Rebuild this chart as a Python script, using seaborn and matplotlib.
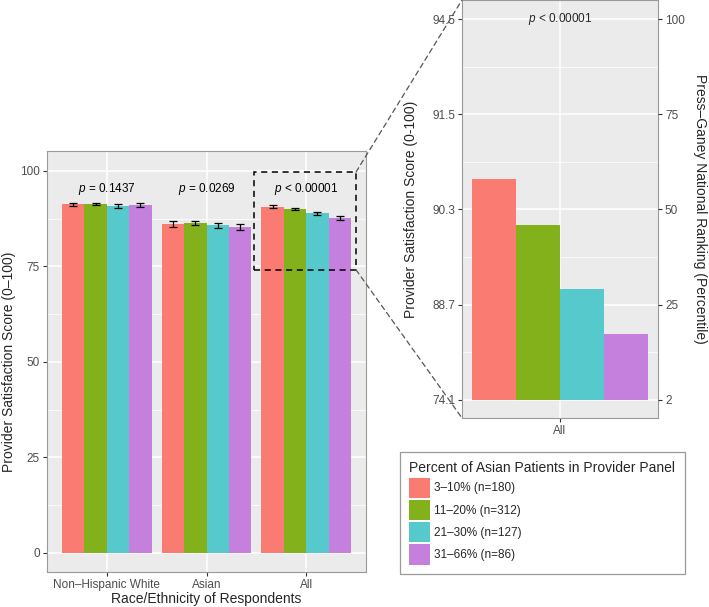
import numpy as np
import pandas as pd
import seaborn as sns
import matplotlib.pyplot as plt
from matplotlib.patches import Rectangle, ConnectionPatch
from matplotlib.ticker import FixedLocator

# ---------------- data ----------------
groups = ["3–10% (n=180)", "11–20% (n=312)", "21–30% (n=127)", "31–66% (n=86)"]
races = ["Non–Hispanic White", "Asian", "All"]
score_nhw = [91.3, 91.4, 90.8, 91.0]
score_asian = [86.2, 86.4, 85.7, 85.4]
score_all = [90.6, 90.0, 88.9, 87.7]
se_nhw = [0.4, 0.3, 0.5, 0.5]
se_asian = [0.8, 0.6, 0.6, 0.8]
se_all = [0.4, 0.3, 0.4, 0.5]
p_labels = ["= 0.1437", "= 0.0269", "< 0.00001"]

# zoom panel: national ranking percentile of each group (All respondents)
pct_all = [58, 46, 29, 18]
pct_ticks = [2, 25, 50, 75, 100]
score_tick_labels = ["74.1", "88.7", "90.3", "91.5", "94.5"]
zoom_p_label = "< 0.00001"

colors = ["#F97B72", "#83B11C", "#55C9CB", "#C480DC"]

# ---------------- style ----------------
sns.set_theme(style="darkgrid")
plt.rcParams.update({
    "axes.facecolor": "#EBEBEB",
    "grid.color": "white",
    "axes.edgecolor": "#9A9A9A",
    "mathtext.fontset": "custom",
    "mathtext.it": "Liberation Sans:italic",
    "mathtext.rm": "Liberation Sans",
})
plt.rcParams["font.family"] = ["Liberation Sans", "DejaVu Sans"]

fig = plt.figure(figsize=(7.09, 6.07), dpi=100)
W, H = 709, 607
ax1 = fig.add_axes([47 / W, 1 - 572 / H, (366 - 47) / W, (572 - 151) / H])
ax2 = fig.add_axes([462 / W, 1 - 418 / H, (658 - 462) / W, 418 / H])

# ---------------- left panel ----------------
df = pd.DataFrame({
    "race": np.repeat(races, len(groups)),
    "group": groups * len(races),
    "score": score_nhw + score_asian + score_all,
    "se": se_nhw + se_asian + se_all,
})
sns.barplot(data=df, x="race", y="score", hue="group", hue_order=groups,
            order=races, palette=colors, width=0.9, errorbar=None,
            saturation=1, linewidth=0, ax=ax1, legend=True)
bar_conts = list(ax1.containers)
for k, cont in enumerate(bar_conts):
    xs = [b.get_x() + b.get_width() / 2 for b in cont.patches]
    sub = df[df["group"] == groups[k]].set_index("race").loc[races]
    ax1.errorbar(xs, sub["score"].values, yerr=sub["se"].values, fmt="none",
                 ecolor="black", elinewidth=0.9, capsize=3, capthick=0.9, zorder=5)

ax1.set_xlim(-0.6, 2.6)
ax1.set_ylim(-5, 105.2)
ax1.yaxis.set_major_locator(FixedLocator([0, 25, 50, 75, 100]))
ax1.yaxis.set_minor_locator(FixedLocator([12.5, 37.5, 62.5, 87.5]))
ax1.grid(which="major", color="white", lw=1.1)
ax1.grid(which="minor", color="white", lw=0.55)
ax1.set_axisbelow(True)
ax1.tick_params(which="major", length=3, width=0.8, color="#333333",
                labelcolor="#4D4D4D", labelsize=8.5, pad=2, left=True, bottom=True)
ax1.tick_params(which="minor", length=0)
ax1.set_xlabel("Race/Ethnicity of Respondents", fontsize=10, labelpad=1)
ax1.set_ylabel("Provider Satisfaction Score (0–100)", fontsize=10, labelpad=3)
for s in ax1.spines.values():
    s.set_visible(True)
    s.set_color("#9A9A9A")
    s.set_linewidth(0.8)

for i, lab in enumerate(p_labels):
    ax1.text(i, 95.2, r"$p$ " + lab, ha="center", va="center", fontsize=8.5,
             color="black")

handles, labels = ax1.get_legend_handles_labels()
if ax1.get_legend() is not None:
    ax1.get_legend().remove()

# dashed zoom box
box_y0, box_y1 = 74.1, 99.7
ax1.add_patch(Rectangle((1.48, box_y0), 2.5 - 1.48, box_y1 - box_y0, fill=False,
                        ls=(0, (4, 3)), lw=1.1, ec="black", zorder=6))

# ---------------- right (zoom) panel ----------------
pos = np.interp(pct_all, pct_ticks, np.arange(len(pct_ticks)))
dz = pd.DataFrame({"race": ["All"] * len(groups), "group": groups, "pos": pos})
sns.barplot(data=dz, x="race", y="pos", hue="group", hue_order=groups,
            palette=colors, width=0.9, errorbar=None, saturation=1,
            linewidth=0, ax=ax2, legend=False)
ax2.set_xlim(-0.5, 0.5)
ax2.set_ylim(-0.19, 4.2)
ax2.yaxis.set_major_locator(FixedLocator(range(len(pct_ticks))))
ax2.yaxis.set_minor_locator(FixedLocator([0.5, 1.5, 2.5, 3.5]))
ax2.set_yticklabels(score_tick_labels)
ax2.grid(which="major", color="white", lw=1.1)
ax2.grid(which="minor", color="white", lw=0.55)
ax2.set_axisbelow(True)
ax2.tick_params(which="major", length=3, width=0.8, color="#333333",
                labelcolor="#4D4D4D", labelsize=8.5, pad=2, left=True, bottom=True)
ax2.tick_params(which="minor", length=0)
ax2.set_xlabel("")
ax2.set_ylabel("Provider Satisfaction Score (0-100)", fontsize=10, labelpad=10)
for s in ax2.spines.values():
    s.set_visible(True)
    s.set_color("#9A9A9A")
    s.set_linewidth(0.8)
ax2.text(0, 4, r"$p$ " + zoom_p_label, ha="center", va="center", fontsize=8.5)

ax2r = ax2.twinx()
ax2r.set_ylim(ax2.get_ylim())
ax2r.yaxis.set_major_locator(FixedLocator(range(len(pct_ticks))))
ax2r.set_yticklabels([str(p) for p in pct_ticks])
ax2r.grid(False)
ax2r.tick_params(which="major", length=3, width=0.8, color="#333333",
                 labelcolor="#4D4D4D", labelsize=8.5, pad=2, right=True)
ax2r.set_ylabel("Press–Ganey National Ranking (Percentile)", fontsize=10,
                rotation=270, labelpad=16)
for s in ax2r.spines.values():
    s.set_visible(False)

# connectors
for ya, yb in [(box_y1, 4.2), (box_y0, -0.19)]:
    cp = ConnectionPatch(xyA=(2.5, ya), coordsA=ax1.transData,
                         xyB=(-0.5, yb), coordsB=ax2.transData,
                         ls=(0, (4, 3)), lw=0.9, color="#555555", zorder=10)
    fig.add_artist(cp)

# legend
leg = fig.legend(handles, labels, loc="upper left",
                 bbox_to_anchor=(400 / W, 1 - 452 / H),
                 title="Percent of Asian Patients in Provider Panel",
                 title_fontsize=10, fontsize=8.5, frameon=True, fancybox=False,
                 edgecolor="#9A9A9A", facecolor="white", framealpha=1,
                 handlelength=1.7, handleheight=2.25, labelspacing=0.18,
                 handletextpad=0.4, borderpad=0.8, borderaxespad=0)
leg._legend_box.align = "left"
leg.get_frame().set_linewidth(0.9)

fig.savefig("out.png", dpi=100)
